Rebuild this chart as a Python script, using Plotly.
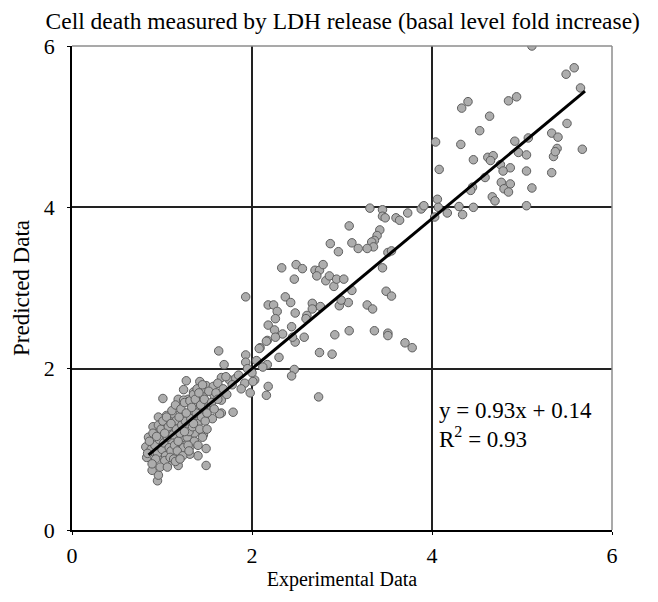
import plotly.graph_objects as go

title_text = "Cell death measured by LDH release (basal level fold increase)"
x_title = "Experimental Data"
y_title = "Predicted Data"
tick_vals = [0, 2, 4, 6]
tick_text = ["0", "2", "4", "6"]

slope = 0.93
intercept = 0.14
r2 = 0.93
fit_x = [0.85, 5.70]

# scatter points (experimental, predicted)
exp_data = [
    5.11, 5.49, 5.58, 5.65, 5.50, 5.67, 5.33, 5.40, 5.39, 5.35, 5.33, 5.37,
    4.33, 4.40, 4.85, 4.94, 4.64, 4.53, 4.04, 4.32, 4.92, 5.07, 4.96, 5.05,
    4.46, 4.62, 4.68, 4.65, 4.76, 4.87, 4.79, 5.05, 4.08, 4.59, 4.77, 4.87,
    4.80, 4.85, 5.11, 4.45, 4.43, 4.67, 4.70, 5.05, 4.06, 4.07, 3.90, 4.30,
    4.46, 4.17, 4.34, 4.03,
    3.31, 3.45, 3.45, 3.48, 3.60, 3.64, 3.73, 3.88, 3.91, 3.42, 3.39, 3.36,
    3.33, 3.35, 3.28, 3.51, 3.55, 3.45, 3.49, 3.55, 3.28, 3.34, 3.36, 3.51,
    3.51, 3.70, 3.78,
    3.08, 2.87, 2.96, 3.11, 3.18, 2.33, 2.49, 2.56, 2.47, 2.70, 2.75, 2.79,
    2.72, 2.82, 2.86, 2.91, 2.94, 3.02, 3.11, 1.93, 2.37, 2.43, 2.18, 2.24,
    2.28, 2.48, 2.67, 2.67, 2.76, 2.97, 3.07, 2.99, 2.26, 2.18, 2.25, 2.44,
    2.61, 2.60, 2.34, 2.26, 2.17, 2.48, 2.58, 2.45, 2.92, 3.08, 2.09, 2.16,
    2.30, 2.75, 2.89, 1.93, 1.93, 2.17, 2.12, 2.47, 2.44, 2.03, 1.92, 2.18,
    2.16, 1.98, 2.74,
    1.63, 1.69, 2.08, 1.27, 1.42, 1.49, 1.57, 1.66, 1.75, 2.01, 1.24, 1.35,
    1.38, 1.47, 1.18, 1.29, 1.36, 1.47, 1.58, 1.66, 1.79, 1.66, 1.53, 1.01,
    1.09, 1.24,
    1.49, 1.49, 1.40, 1.31, 1.18, 0.95, 0.96, 0.89, 0.83, 0.82, 0.85, 0.90,
    0.96, 1.05, 1.12, 1.24, 1.56, 1.64, 1.46, 1.31, 1.07, 1.01, 1.12, 1.22,
    0.98, 1.09, 1.20, 0.90, 0.94, 1.03, 1.12, 1.27, 1.38, 1.36, 1.24, 1.16,
    1.05, 1.33, 1.42, 1.49, 1.35, 1.46, 1.62, 1.71, 1.82,
    0.88, 0.92, 0.95, 0.97, 1.00, 1.02, 1.04, 1.06, 1.08, 1.10, 1.12, 1.14,
    1.16, 1.18, 1.20, 1.22, 1.24, 1.26, 1.28, 1.30, 1.32, 1.34, 1.36, 1.38,
    1.40, 1.42, 1.44, 1.46, 1.48, 1.50, 0.86, 0.90, 0.93, 0.96, 0.99, 1.01,
    1.03, 1.05, 1.07, 1.09, 1.11, 1.13, 1.15, 1.17, 1.19, 1.21, 1.23, 1.25,
    1.27, 1.29, 1.31, 1.33, 1.35, 1.37, 1.39, 1.41, 1.43, 1.45, 1.47, 1.52,
    1.55, 1.58, 1.60, 1.62, 1.68, 1.72, 1.78, 1.85, 1.88, 1.95, 2.00, 2.05,
    0.84, 0.89, 0.94, 0.98, 1.03, 1.06, 1.10, 1.15, 1.20, 1.25, 1.30, 1.35,
    1.40, 1.45, 1.50,
]
pred_data = [
    6.00, 5.65, 5.73, 5.48, 5.04, 4.72, 4.92, 4.87, 4.73, 4.63, 4.43, 4.69,
    5.23, 5.31, 5.32, 5.37, 5.13, 4.95, 4.81, 4.78, 4.82, 4.86, 4.68, 4.65,
    4.59, 4.62, 4.64, 4.58, 4.53, 4.49, 4.45, 4.45, 4.47, 4.37, 4.31, 4.29,
    4.23, 4.19, 4.24, 4.25, 4.21, 4.13, 4.08, 4.02, 4.10, 4.00, 4.01, 4.01,
    4.00, 3.93, 3.91, 3.88,
    3.99, 3.97, 3.89, 3.87, 3.87, 3.84, 3.93, 3.98, 4.02, 3.72, 3.65, 3.59,
    3.57, 3.51, 3.49, 3.44, 3.46, 3.25, 2.96, 2.90, 2.79, 2.74, 2.47, 2.44,
    2.41, 2.32, 2.26,
    3.77, 3.55, 3.45, 3.56, 3.49, 3.25, 3.29, 3.24, 3.11, 3.22, 3.22, 3.29,
    3.15, 3.09, 3.15, 3.02, 3.11, 3.11, 2.97, 2.89, 2.89, 2.82, 2.79, 2.79,
    2.71, 2.69, 2.81, 2.74, 2.77, 2.78, 2.82, 2.85, 2.62, 2.54, 2.48, 2.52,
    2.66, 2.62, 2.43, 2.39, 2.35, 2.33, 2.39, 2.39, 2.42, 2.47, 2.26, 2.34,
    2.14, 2.20, 2.18, 2.17, 2.08, 2.05, 2.02, 1.99, 1.91, 1.86, 1.82, 1.78,
    1.67, 1.70, 1.65,
    2.22, 2.05, 2.25, 1.85, 1.84, 1.79, 1.78, 1.89, 1.86, 1.84, 1.74, 1.71,
    1.65, 1.71, 1.62, 1.62, 1.57, 1.60, 1.67, 1.61, 1.46, 1.45, 1.51, 1.63,
    1.42, 1.44,
    1.01, 0.80, 0.92, 0.94, 0.80, 0.61, 0.68, 0.74, 0.90, 1.03, 1.15, 1.28,
    1.40, 1.42, 1.44, 1.61, 1.38, 1.44, 1.18, 1.03, 0.83, 0.91, 0.95, 0.97,
    1.07, 1.11, 1.07, 0.97, 1.20, 1.22, 1.26, 1.28, 1.34, 1.20, 1.15, 1.36,
    1.32, 1.44, 1.48, 1.53, 1.57, 1.65, 1.82, 1.90, 1.88,
    1.00, 1.05, 0.95, 1.12, 1.00, 1.08, 0.92, 1.15, 1.02, 0.98, 1.18, 1.05,
    1.25, 1.10, 1.20, 1.30, 1.02, 1.35, 1.15, 1.22, 1.38, 1.28, 1.10, 1.45,
    1.32, 1.25, 1.40, 1.52, 1.35, 1.45, 1.10, 1.20, 0.88, 1.30, 1.25, 1.35,
    0.86, 1.40, 1.28, 0.90, 1.48, 0.88, 1.55, 0.98, 1.40, 1.50, 0.92, 1.58,
    1.45, 1.05, 1.60, 1.52, 1.68, 1.62, 1.75, 1.70, 1.55, 1.80, 1.62, 1.72,
    1.58, 1.50, 1.70, 1.62, 1.75, 1.68, 1.80, 1.92, 1.75, 2.00, 1.95, 2.10,
    0.95, 0.82, 1.16, 0.78, 1.20, 0.78, 1.32, 0.85, 0.88, 1.22, 0.98, 1.32,
    1.05, 1.15, 1.25,
]

fit_y = [slope * v + intercept for v in fit_x]

serif = "Liberation Serif, Times New Roman, serif"

fig = go.Figure()
fig.add_trace(go.Scatter(
    x=exp_data, y=pred_data, mode="markers",
    marker=dict(size=8.5, color="#adadad", line=dict(color="#5e5e5e", width=1)),
    showlegend=False, hoverinfo="x+y",
))
fig.add_trace(go.Scatter(
    x=fit_x, y=fit_y, mode="lines",
    line=dict(color="black", width=3),
    showlegend=False, hoverinfo="skip",
))

fig.add_annotation(
    x=4.06, y=1.48, xref="x", yref="y", xanchor="left", yanchor="middle",
    text=f"y = {slope:.2f}x + {intercept:.2f}", showarrow=False,
    font=dict(family=serif, size=23, color="black"),
)
fig.add_annotation(
    x=4.06, y=1.15, xref="x", yref="y", xanchor="left", yanchor="middle",
    text=f"R<sup>2</sup> = {r2:.2f}", showarrow=False,
    font=dict(family=serif, size=23, color="black"),
)

# light top and right frame lines
fig.add_shape(type="line", xref="paper", yref="paper", x0=0, x1=1, y0=1, y1=1,
              line=dict(color="#8c8c8c", width=1.5))
fig.add_shape(type="line", xref="paper", yref="paper", x0=1, x1=1, y0=0, y1=1,
              line=dict(color="#8c8c8c", width=1.5))

axis_common = dict(
    range=[0, 6], tickvals=tick_vals, ticktext=tick_text,
    showgrid=True, gridcolor="#222222", gridwidth=1.5,
    showline=True, linecolor="black", linewidth=1.5,
    zeroline=False, ticks="outside", ticklen=3, tickcolor="black",
    tickfont=dict(family=serif, size=22, color="black"),
)

fig.update_layout(
    width=650, height=594,
    margin=dict(l=59, r=46, t=38, b=72),
    paper_bgcolor="white", plot_bgcolor="white",
    title=dict(text=title_text, x=0.515, xanchor="center", y=0.978, yanchor="middle",
               font=dict(family=serif, size=23.5, color="black")),
    xaxis=dict(**axis_common, ticklabelstandoff=2,
               title=dict(text=x_title, standoff=5,
                          font=dict(family=serif, size=20, color="black"))),
    yaxis=dict(**axis_common, ticklabelstandoff=8,
               title=dict(text=y_title, standoff=8,
                          font=dict(family=serif, size=23, color="black"))),
)

fig.write_html("out.html")
